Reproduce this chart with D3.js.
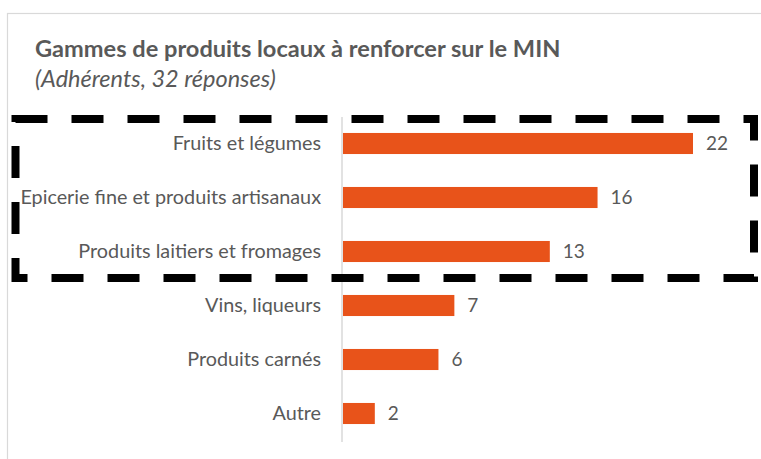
<!DOCTYPE html>
<html>
<head>
  <meta charset="utf-8">
  <title>Gammes de produits locaux</title>
  <script src="https://d3js.org/d3.v7.min.js"></script>
  <style>
    body { margin: 0; background: #fff; }
    svg { display: block; font-family: Lato, "Open Sans", sans-serif; }
  </style>
</head>
<body>
  <div id="chart"></div>
  <script>
    const categories = ["Fruits et légumes", "Epicerie fine et produits artisanaux", "Produits laitiers et fromages",
                        "Vins, liqueurs", "Produits carnés", "Autre"];
    const values = [22, 16, 13, 7, 6, 2];
    const title = "Gammes de produits locaux à renforcer sur le MIN";
    const subtitle = "(Adhérents, 32 réponses)";

    const width = 761, height = 459;
    const svg = d3.select("#chart").append("svg").attr("width", width).attr("height", height);

    // chart frame
    svg.append("rect")
      .attr("x", 7.5).attr("y", 13.5)
      .attr("width", 800).attr("height", 500)
      .attr("fill", "none").attr("stroke", "#d9d9d9").attr("stroke-width", 1.2);

    svg.append("text").attr("x", 35).attr("y", 57)
      .attr("fill", "#595959").attr("font-size", 23.6).attr("font-weight", "bold")
      .text(title);
    svg.append("text").attr("x", 35).attr("y", 87)
      .attr("fill", "#595959").attr("font-size", 23.5).attr("font-style", "italic")
      .text(subtitle);

    const x = d3.scaleLinear().domain([0, 22]).range([343, 693]);
    const y = d3.scaleBand().domain(categories).range([116.5, 440.5]).paddingInner(0.61).paddingOuter(0.305);

    // vertical axis line
    svg.append("line")
      .attr("x1", 342).attr("x2", 342).attr("y1", 117).attr("y2", 442)
      .attr("stroke", "#d9d9d9").attr("stroke-width", 1.5);

    svg.selectAll(".bar").data(categories).enter().append("rect")
      .attr("class", "bar")
      .attr("x", x(0))
      .attr("y", d => y(d))
      .attr("width", (d, i) => x(values[i]) - x(0))
      .attr("height", y.bandwidth())
      .attr("fill", "#e8531a");

    svg.selectAll(".cat").data(categories).enter().append("text")
      .attr("class", "cat")
      .attr("x", 321)
      .attr("y", d => y(d) + y.bandwidth() / 2)
      .attr("dy", "0.35em")
      .attr("text-anchor", "end")
      .attr("fill", "#595959").attr("font-size", 19.8)
      .text(d => d);

    svg.selectAll(".val").data(categories).enter().append("text")
      .attr("class", "val")
      .attr("x", (d, i) => x(values[i]) + 13)
      .attr("y", d => y(d) + y.bandwidth() / 2)
      .attr("dy", "0.35em")
      .attr("fill", "#595959").attr("font-size", 19)
      .text((d, i) => values[i]);

    // dashed highlight box around the top three
    svg.append("rect")
      .attr("x", 15.5).attr("y", 119)
      .attr("width", 738.5).attr("height", 159)
      .attr("fill", "none").attr("stroke", "#000").attr("stroke-width", 8)
      .attr("stroke-dasharray", "32,24");
  </script>
</body>
</html>
